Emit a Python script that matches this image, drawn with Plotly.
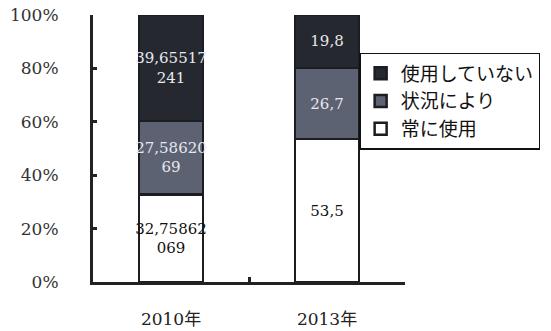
import plotly.graph_objects as go

# Survey years and share of respondents (%) for each usage answer
years = ["2010年", "2013年"]
always_use = [32.75862069, 53.5]      # 常に使用
depends = [27.5862069, 26.7]          # 状況により
never_use = [39.65517241, 19.8]       # 使用していない
y_ticks = [0, 20, 40, 60, 80, 100]
y_tick_text = ["0%", "20%", "40%", "60%", "80%", "100%"]


def label(v):
    # values written with a decimal comma, wrapped after 8 characters
    s = f"{v}".replace(".", ",")
    return s if len(s) <= 8 else s[:8] + "<br>" + s[8:]


SERIF = "DejaVu Serif, Liberation Serif, serif"
CJK = "DejaVu Serif, Noto Sans CJK JP, serif"
EDGE = "#1c1d22"

series = [
    ("常に使用", always_use, "#ffffff", "#111111"),
    ("状況により", depends, "#5c6272", "#e8e8ee"),
    ("使用していない", never_use, "#25282f", "#e8e8ee"),
]

fig = go.Figure()
for name, vals, color, tcolor in series:
    fig.add_trace(go.Bar(
        x=years, y=vals, name=name,
        marker=dict(color=color, line=dict(color=EDGE, width=2.5)),
        text=[label(v) for v in vals],
        textposition="inside", insidetextanchor="middle",
        constraintext="none", textangle=0,
        textfont=dict(family=SERIF, size=15, color=tcolor),
    ))

fig.update_layout(
    width=551, height=331,
    margin=dict(l=93, r=146, t=15, b=49, autoexpand=False),
    barmode="stack", bargap=0.59,
    plot_bgcolor="white", paper_bgcolor="white",
    showlegend=True,
    legend=dict(
        x=0.853, y=0.858, xanchor="left", yanchor="top",
        traceorder="reversed",
        bgcolor="white", bordercolor="#111111", borderwidth=1.5,
        font=dict(family="Noto Sans CJK JP", size=19, color="#111111"),
        itemwidth=30, tracegroupgap=0,
    ),
    xaxis=dict(
        showline=True, linecolor="#222222", linewidth=3,
        ticks="inside", tickson="boundaries", ticklen=5, tickwidth=3,
        tickcolor="#222222", ticklabelstandoff=20, automargin=False,
        tickfont=dict(family=CJK, size=17, color="#222222"),
        showgrid=False,
    ),
    yaxis=dict(
        range=[0, 100], tickvals=y_ticks, ticktext=y_tick_text,
        showline=True, linecolor="#222222", linewidth=3,
        ticks="inside", ticklen=4, tickwidth=3, tickcolor="#222222",
        ticklabelstandoff=28, automargin=False,
        tickfont=dict(family=SERIF, size=17, color="#333333"),
        showgrid=False, zeroline=False,
    ),
)

fig.write_html("out.html")
